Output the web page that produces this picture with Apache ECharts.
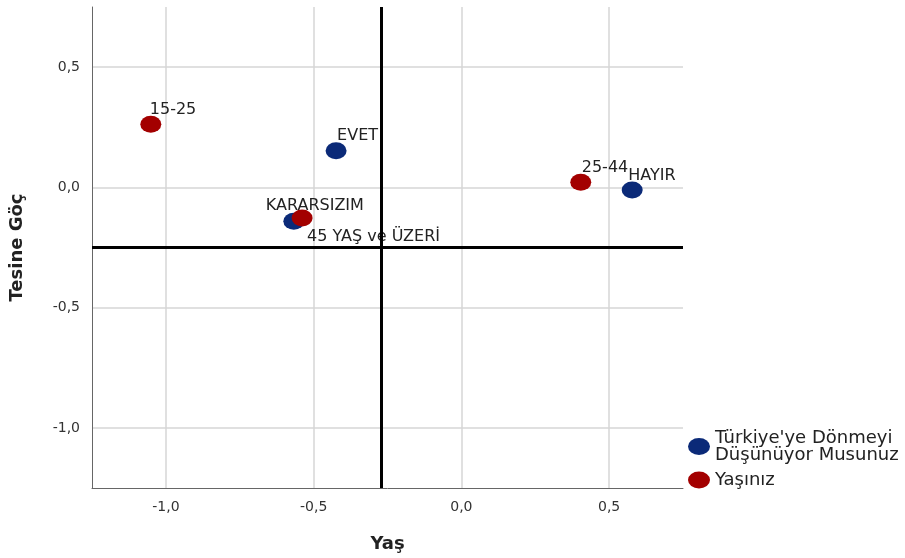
<!DOCTYPE html>
<html>
<head>
<meta charset="utf-8">
<script src="https://cdn.jsdelivr.net/npm/echarts@6/dist/echarts.min.js"></script>
<style>
html,body{margin:0;padding:0;background:#fff;}
#chart{width:905px;height:558px;}
</style>
</head>
<body>
<div id="chart"></div>
<script>
// ---- Data ----
const blueName = "Türkiye'ye Dönmeyi\nDüşünüyor Musunuz";
const blueLabels = ["EVET", "HAYIR", "KARARSIZIM"];
const blueX = [-0.424, 0.578, -0.567];
const blueY = [0.152, -0.011, -0.141];

const redName = "Yaşınız";
const redLabels = ["15-25", "25-44", "45 YAŞ ve ÜZERİ"];
const redX = [-1.051, 0.404, -0.539];
const redY = [0.262, 0.021, -0.127];

const refX = -0.267;   // vertical reference line (Yaş)
const refY = -0.250;   // horizontal reference line (Tesine Göç)

const xTitle = "Yaş";
const yTitle = "Tesine Göç";

// ---- Label placement (styling, kept apart from data) ----
const blueLabelOffsets = [[1, -15], [-4, -14], [-28, -15]];
const redLabelOffsets = [[-1, -15], [1, -14], [5, 19]];

const FONT = "DejaVu Sans";
const ellipse = 'path://M0 50 A50 50 0 1 1 100 50 A50 50 0 1 1 0 50 Z';

function fmt(v) {
  return v.toFixed(1).replace('.', ',');
}
function tickLabel(v) {
  const k = Math.round(v * 100);
  return (Math.abs(k) % 50 === 0) ? fmt(v) : '';
}

function buildData(xs, ys, names, offsets) {
  return xs.map((x, i) => ({
    value: [x, ys[i]],
    name: names[i],
    label: { offset: offsets[i] }
  }));
}

const labelStyle = {
  show: true,
  formatter: '{b}',
  position: 'inside',
  align: 'left',
  verticalAlign: 'middle',
  fontFamily: FONT,
  fontSize: 16,
  color: '#222'
};

const axisCommon = {
  type: 'value',
  min: -1.25,
  max: 0.75,
  interval: 0.25,
  axisLine: { show: true, onZero: false, lineStyle: { color: '#666', width: 1 } },
  axisTick: { show: false },
  splitLine: { show: true, lineStyle: { color: ['rgba(0,0,0,0)', '#d6d6d6'], width: 1.5 } },
  nameLocation: 'middle',
  nameTextStyle: { fontFamily: FONT, fontSize: 18, fontWeight: 'bold', color: '#222' }
};

const chart = echarts.init(document.getElementById('chart'), null, { renderer: 'canvas' });
chart.setOption({
  animation: false,
  backgroundColor: '#fff',
  grid: { left: 92, right: 222, top: 7, bottom: 68, containLabel: false },
  xAxis: Object.assign({}, axisCommon, {
    name: xTitle,
    nameGap: 47,
    axisLabel: { formatter: tickLabel, fontFamily: FONT, fontSize: 14, color: '#333', margin: 12 }
  }),
  yAxis: Object.assign({}, axisCommon, {
    name: yTitle,
    nameGap: 66,
    axisLabel: { formatter: tickLabel, fontFamily: FONT, fontSize: 14, color: '#333', margin: 12 }
  }),
  legend: {
    orient: 'vertical',
    left: 688,
    top: 429,
    padding: 0,
    itemGap: 7,
    itemWidth: 22,
    itemHeight: 17,
    icon: ellipse,
    symbolKeepAspect: false,
    textStyle: { fontFamily: FONT, fontSize: 18, lineHeight: 17, color: '#222' },
    data: [blueName, redName]
  },
  series: [
    {
      name: blueName,
      type: 'scatter',
      symbol: ellipse,
      symbolSize: [21, 17],
      symbolKeepAspect: false,
      itemStyle: { color: '#0b2a78', opacity: 1 },
      label: labelStyle,
      data: buildData(blueX, blueY, blueLabels, blueLabelOffsets),
      z: 3
    },
    {
      name: redName,
      type: 'scatter',
      symbol: ellipse,
      symbolSize: [21, 17],
      symbolKeepAspect: false,
      itemStyle: { color: '#a30000', opacity: 1 },
      label: labelStyle,
      data: buildData(redX, redY, redLabels, redLabelOffsets),
      z: 4,
      markLine: {
        silent: true,
        symbol: 'none',
        label: { show: false },
        lineStyle: { color: '#000', width: 3, type: 'solid' },
        data: [{ xAxis: refX }, { yAxis: refY }]
      }
    }
  ]
});
</script>
</body>
</html>
